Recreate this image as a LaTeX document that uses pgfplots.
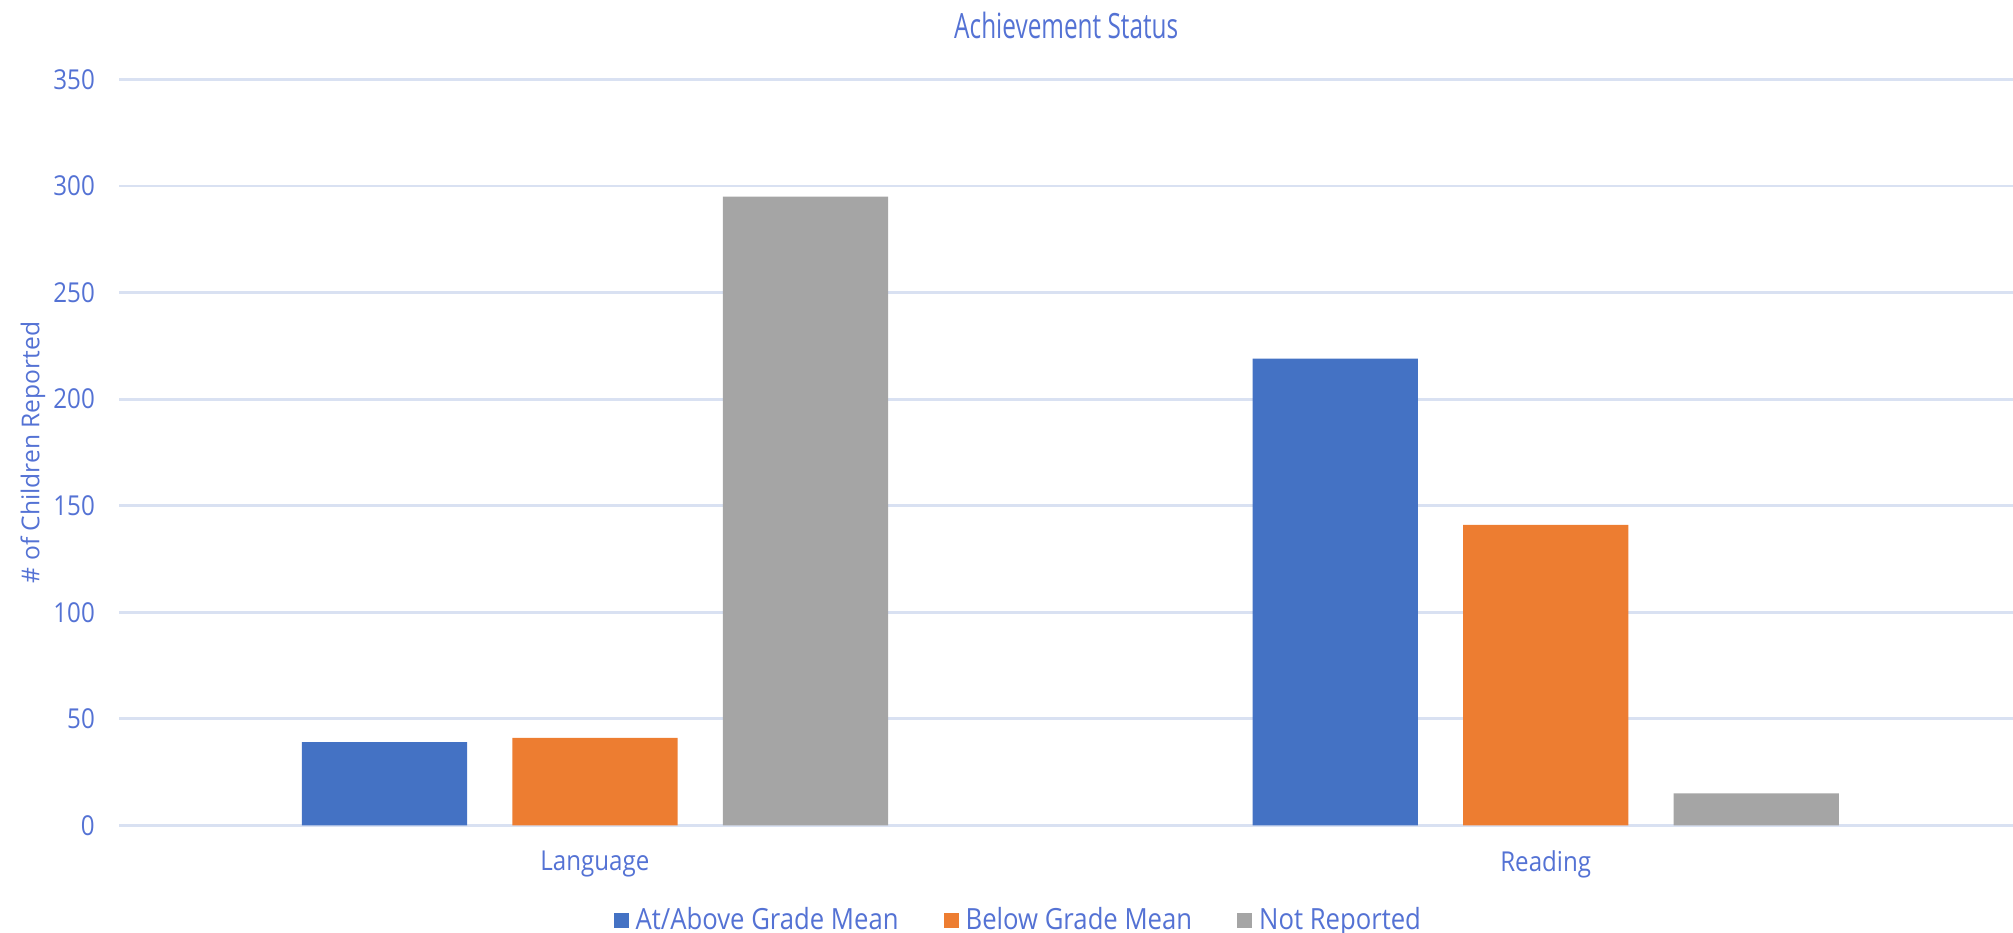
\documentclass[border=0pt]{standalone}
\usepackage{fontspec}
\setmainfont{Open Sans}[FakeStretch=0.88]
\newfontfamily\plainfont{Open Sans}
\newfontfamily\titlefont[FakeStretch=0.7]{Open Sans}
\usepackage{pgfplots}
\pgfplotsset{compat=1.18}

\definecolor{txt}{RGB}{84,114,212}
\definecolor{gridc}{RGB}{217,225,242}
\definecolor{sblue}{HTML}{4472C4}
\definecolor{sorange}{HTML}{ED7D31}
\definecolor{sgray}{HTML}{A5A5A5}

\begin{document}
\begin{tikzpicture}
\path[use as bounding box] (-11.95mm,-10.77mm) rectangle (189.35mm,82.53mm);
\begin{axis}[
  scale only axis, width=189.35mm, height=74.58mm, clip=false,
  ybar, bar width=0.1738,
  xmin=-0.5, xmax=1.4915, ymin=0, ymax=350,
  xtick=data, xticklabels={Language, Reading},
  ytick={0,50,...,350},
  major tick length=0pt,
  axis line style={draw=none},
  ymajorgrids, grid style={gridc, line width=0.8pt},
  /pgf/number format/assume math mode=true,
  tick label style={font=\fontsize{7.8}{9}\selectfont, text=txt},
  yticklabel style={anchor=east, inner sep=0pt, xshift=-2.4mm},
  xticklabel style={anchor=center, yshift=-3.9mm},
  ylabel={\# of Children Reported},
  ylabel style={at={(axis description cs:-0.0457,0.5)}, anchor=center,
    font=\plainfont\fontsize{7}{8}\selectfont, text=txt},
  legend style={at={(0.476,-0.128)}, anchor=center, draw=none,
    legend columns=3, font=\fontsize{8.3}{10}\selectfont, text=txt,
    /tikz/every even column/.append style={column sep=3.8mm}},
  legend image code/.code={\fill[#1] (0mm,-0.75mm) rectangle (1.5mm,0.75mm);},
]
\addplot[fill=sblue, draw=none, bar shift=-0.2214] coordinates {(0,39) (1,219)};
\addplot[fill=sorange, draw=none, bar shift=0] coordinates {(0,41) (1,141)};
\addplot[fill=sgray, draw=none, bar shift=0.2214] coordinates {(0,295) (1,15)};
\legend{At/Above Grade Mean, Below Grade Mean, Not Reported}
\node[anchor=center, text=txt, font=\titlefont\fontsize{9.9}{12}\selectfont]
  at (axis description cs:0.5,1.073) {Achievement Status};
\end{axis}
\end{tikzpicture}
\end{document}
